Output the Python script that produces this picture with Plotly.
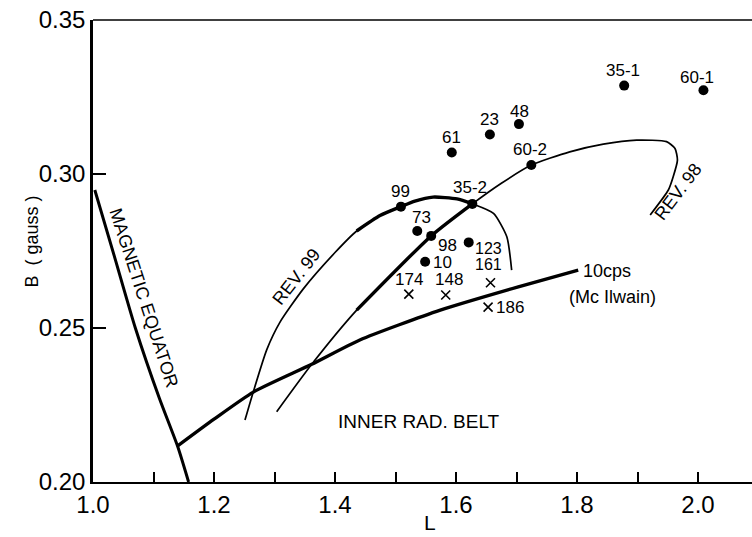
import plotly.graph_objects as go

# ---- observed points (flight labels, L in earth radii, B in gauss) ----
dot_labels = ["99", "35-2", "73", "98", "123", "10", "61", "23", "48", "60-2", "35-1", "60-1"]
dot_L = [1.509, 1.627, 1.536, 1.559, 1.621, 1.549, 1.593, 1.656, 1.704, 1.7245, 1.878, 2.009]
dot_B = [0.2894, 0.2903, 0.2815, 0.2799, 0.2778, 0.2715, 0.3070, 0.3128, 0.3162, 0.3029, 0.3287, 0.3272]

cross_labels = ["174", "148", "161", "186"]
cross_L = [1.522, 1.583, 1.657, 1.653]
cross_B = [0.2610, 0.2607, 0.2647, 0.2568]

# ---- curves ----
equator_L = [1.003, 1.035, 1.070, 1.110, 1.140, 1.158]
equator_B = [0.2948, 0.2735, 0.2500, 0.2270, 0.2115, 0.2000]

mcilwain_L = [1.1405, 1.200, 1.265, 1.3615, 1.441, 1.574, 1.700, 1.802]
mcilwain_B = [0.2118, 0.2204, 0.2292, 0.2382, 0.2461, 0.2558, 0.2632, 0.2688]

rev99_L = [1.2512, 1.2650, 1.2871, 1.3091, 1.3476, 1.400, 1.4358, 1.4744, 1.509, 1.532, 1.562, 1.6017,
           1.627, 1.662, 1.684, 1.692]
rev99_B = [0.2201, 0.2293, 0.2429, 0.2519, 0.2627, 0.2745, 0.2815, 0.2865, 0.2894, 0.2912, 0.2925, 0.2919,
           0.2903, 0.2872, 0.2796, 0.2688]

rev98_L = [1.3036, 1.3615, 1.4358, 1.559, 1.627, 1.675, 1.7245, 1.788, 1.8435,
           1.8986, 1.948, 1.962, 1.966, 1.959, 1.951, 1.921]
rev98_B = [0.2228, 0.2382, 0.2558, 0.2799, 0.2903, 0.2970, 0.3029, 0.3072, 0.3097,
           0.3110, 0.3105, 0.3083, 0.3045, 0.2991, 0.2948, 0.2867]

# heavier stretch of the REV curves
bold_from, bold_to = 1.4358, 1.627

x_ticks = [1.0, 1.1, 1.2, 1.3, 1.4, 1.5, 1.6, 1.7, 1.8, 1.9, 2.0]
x_ticktext = ["1.0", "", "1.2", "", "1.4", "", "1.6", "", "1.8", "", "2.0"]
y_ticks = [0.20, 0.25, 0.30, 0.35]
y_ticktext = ["0.20", "0.25", "0.30", "0.35"]

FONT = "Liberation Sans"
INK = "black"

fig = go.Figure()


def add_line(xs, ys, width):
    fig.add_trace(go.Scatter(x=xs, y=ys, mode="lines",
                             line=dict(color=INK, width=width, shape="spline", smoothing=0.6),
                             hoverinfo="skip", showlegend=False))


def bold_part(xs, ys):
    lo = next(i for i, v in enumerate(xs) if v >= bold_from)
    hi = next(i for i, v in enumerate(xs) if v >= bold_to)
    return xs[lo:hi + 1], ys[lo:hi + 1]


add_line(equator_L, equator_B, 3.0)
add_line(mcilwain_L, mcilwain_B, 3.3)
add_line(rev99_L, rev99_B, 1.7)
add_line(rev98_L, rev98_B, 1.7)
bx, by = bold_part(rev99_L, rev99_B)
add_line(bx, by, 3.4)
bx, by = bold_part(rev98_L, rev98_B)
add_line(bx, by, 3.4)

fig.add_trace(go.Scatter(x=dot_L, y=dot_B, mode="markers",
                         marker=dict(symbol="circle", size=10, color=INK),
                         hoverinfo="skip", showlegend=False))
fig.add_trace(go.Scatter(x=cross_L, y=cross_B, mode="markers",
                         marker=dict(symbol="x-thin", size=9, color=INK, line=dict(color=INK, width=1.6)),
                         hoverinfo="skip", showlegend=False))

# label offsets in pixels (dx, dy, anchor, font size)
dot_offsets = [(0, 15, "center", 17), (-2, 16, "center", 17), (4, 13, "center", 17), (16, -10, "center", 17),
               (20, -6, "center", 16), (17, -1, "center", 17), (0, 15, "center", 17), (0, 15, "center", 17),
               (1, 13, "center", 17), (-1, 16, "center", 17), (-1, 15, "center", 17), (-6, 13, "center", 17)]
cross_offsets = [(0, 15, "center", 17), (3, 16, "center", 17), (-2, 18, "center", 16), (7, 0, "left", 17)]

annotations = []
for lab, x, y, (dx, dy, anc, fs) in zip(dot_labels + cross_labels, dot_L + cross_L, dot_B + cross_B,
                                         dot_offsets + cross_offsets):
    annotations.append(dict(x=x, y=y, text=lab, showarrow=False, xshift=dx, yshift=dy,
                            xanchor=anc, yanchor="middle", borderpad=0,
                            font=dict(size=fs, color=INK, family=FONT)))

annotations += [
    dict(x=1.084, y=0.2597, text="MAGNETIC EQUATOR", textangle=72, showarrow=False,
         font=dict(size=18, color=INK, family=FONT)),
    dict(x=1.336, y=0.2665, text="REV. 99", textangle=-52, showarrow=False,
         font=dict(size=18, color=INK, family=FONT)),
    dict(x=1.967, y=0.2940, text="REV. 98", textangle=-53, showarrow=False,
         font=dict(size=18, color=INK, family=FONT)),
    dict(x=1.539, y=0.2198, text="INNER RAD. BELT", showarrow=False,
         font=dict(size=19, color=INK, family=FONT)),
    dict(x=1.806, y=0.2686, text="10cps", xanchor="left", showarrow=False,
         font=dict(size=18, color=INK, family=FONT)),
    dict(x=1.784, y=0.2602, text="(Mc Ilwain)", xanchor="left", showarrow=False,
         font=dict(size=18, color=INK, family=FONT)),
    dict(x=-0.111, y=0.52, xref="paper", yref="paper", text="B  ( gauss )", textangle=-90,
         showarrow=False, font=dict(size=18, color=INK, family=FONT)),
    dict(x=1.557, y=-0.087, yref="paper", yanchor="middle", text="L", showarrow=False,
         font=dict(size=21, color=INK, family=FONT)),
]

fig.update_layout(
    width=752, height=537,
    margin=dict(l=93, r=0, t=20, b=55),
    paper_bgcolor="white", plot_bgcolor="white",
    showlegend=False,
    annotations=annotations,
    shapes=[dict(type="line", xref="paper", yref="paper", x0=0, x1=1, y0=1, y1=1,
                 line=dict(color=INK, width=1.6))],
    xaxis=dict(range=[1.0, 1.0 + 659 / 605], showgrid=False, zeroline=False,
               showline=True, linecolor=INK, linewidth=2.4,
               ticks="inside", ticklen=10, tickwidth=1.5, tickcolor=INK,
               tickvals=x_ticks, ticktext=x_ticktext, ticklabelstandoff=0,
               tickfont=dict(size=24, color=INK, family=FONT)),
    yaxis=dict(range=[0.20, 0.35], showgrid=False, zeroline=False,
               showline=True, linecolor=INK, linewidth=2.7,
               ticks="inside", ticklen=13, tickwidth=1.5, tickcolor=INK,
               tickvals=y_ticks, ticktext=y_ticktext, ticklabelstandoff=0,
               tickfont=dict(size=24, color=INK, family=FONT)),
)

fig.write_html("out.html")
